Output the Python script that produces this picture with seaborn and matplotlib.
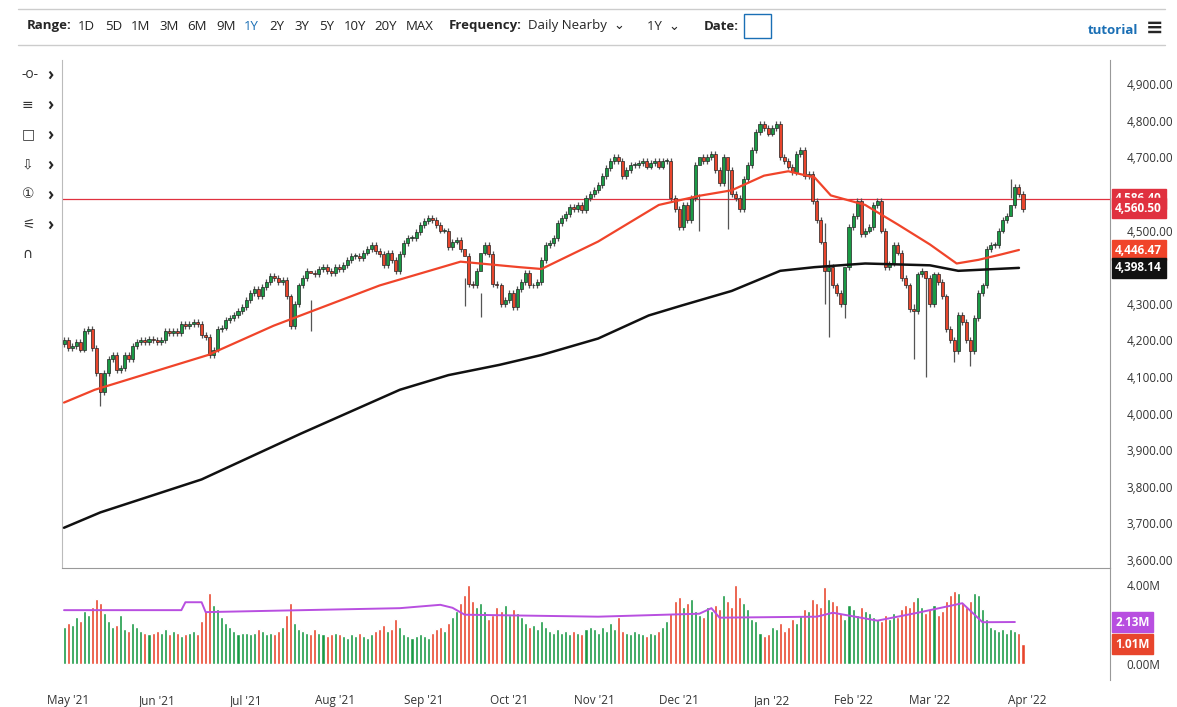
import numpy as np
import pandas as pd
import seaborn as sns
import matplotlib.pyplot as plt
from matplotlib.patches import Rectangle

# daily closes (E-mini S&P)
closes_may = [4200, 4180, 4185, 4195, 4175, 4225, 4230, 4180, 4110, 4060, 4110, 4150, 4160, 4120, 4125,
              4160, 4150, 4185, 4195, 4200, 4195, 4205, 4200]
closes_jun = [4195, 4200, 4225, 4220, 4225, 4220, 4245, 4240, 4245, 4250, 4245, 4215, 4210, 4160, 4175,
              4230, 4235, 4255, 4260, 4270, 4280, 4290]
closes_jul = [4310, 4330, 4340, 4320, 4345, 4360, 4375, 4370, 4360, 4365, 4320, 4240, 4300, 4350, 4370,
              4390, 4385, 4380, 4395, 4400, 4390, 4385]
closes_aug = [4400, 4395, 4405, 4420, 4430, 4430, 4425, 4440, 4450, 4460, 4445, 4435, 4405, 4440, 4420,
              4390, 4435, 4465, 4480, 4480, 4495, 4515]
closes_sep = [4525, 4535, 4530, 4515, 4500, 4500, 4455, 4470, 4475, 4450, 4430, 4355, 4350, 4390, 4440,
              4460, 4435, 4355, 4350, 4300, 4310]
closes_oct = [4330, 4290, 4340, 4360, 4385, 4350, 4350, 4360, 4420, 4460, 4465, 4480, 4520, 4535, 4545,
              4565, 4560, 4570, 4555, 4590, 4600]
closes_nov = [4610, 4625, 4650, 4670, 4690, 4700, 4690, 4650, 4665, 4680, 4680, 4685, 4690, 4675, 4685,
              4690, 4675, 4690, 4690, 4590, 4560]
closes_dec = [4510, 4570, 4530, 4590, 4680, 4700, 4690, 4700, 4710, 4665, 4630, 4700, 4665, 4600, 4590,
              4560, 4640, 4680, 4720, 4770, 4790, 4780, 4765]
closes_jan = [4780, 4790, 4700, 4690, 4675, 4660, 4710, 4720, 4650, 4655, 4580, 4530, 4470, 4390, 4400,
              4350, 4330, 4300, 4400, 4510]
closes_feb = [4540, 4580, 4490, 4500, 4510, 4570, 4580, 4500, 4400, 4410, 4460, 4440, 4370, 4350, 4285,
              4280, 4380, 4390, 4370]
closes_mar = [4300, 4380, 4360, 4320, 4230, 4200, 4170, 4270, 4250, 4200, 4170, 4260, 4330, 4350, 4450,
              4460, 4460, 4500, 4530, 4540, 4570, 4620, 4600, 4560]

# days with long wicks: index -> (high, low)
long_wicks = {9: (4110, 4020), 61: (4310, 4225), 99: (4370, 4295), 103: (4330, 4265), 157: (4600, 4500),
              164: (4680, 4505), 188: (4520, 4300), 189: (4420, 4210), 193: (4350, 4260), 210: (4300, 4150),
              213: (4390, 4100), 220: (4210, 4140), 224: (4210, 4130), 234: (4640, 4590)}

volumes = [1.9, 2.1, 2.0, 2.4, 2.2, 2.7, 2.5, 2.9, 3.3, 3.1, 2.6, 2.2, 1.9, 2.0, 2.5, 1.8, 1.7, 2.1,
           1.9, 1.7, 1.6, 1.5, 1.6,
           1.7, 1.6, 1.8, 1.5, 1.7, 1.6, 1.4, 1.5, 1.6, 1.7, 1.5, 2.2, 2.7, 3.6, 3.0, 2.8, 2.4, 2.1,
           1.9, 1.7, 1.5, 1.6,
           1.6, 1.5, 1.6, 1.8, 1.7, 1.5, 1.6, 1.5, 1.7, 1.9, 2.5, 3.1, 2.1, 1.8, 1.7, 1.6, 1.5, 1.8,
           1.6, 1.5, 1.4, 1.5,
           1.6, 1.5, 1.4, 1.3, 1.5, 1.4, 1.6, 1.4, 1.3, 1.5, 1.7, 1.8, 2.0, 1.7, 1.8, 2.3, 1.9, 1.5,
           1.4, 1.3, 1.4, 1.5,
           1.4, 1.3, 1.6, 1.8, 1.9, 1.7, 2.1, 2.4, 2.7, 3.1, 3.5, 4.0, 3.2, 2.9, 3.1, 2.7, 2.3, 2.5,
           2.9, 2.7, 3.0,
           2.5, 2.8, 2.6, 2.4, 2.1, 1.9, 2.0, 1.8, 2.2, 1.9, 1.7, 1.6, 1.8, 1.6, 1.7, 1.5, 1.7, 1.6,
           1.5, 1.8, 1.9,
           1.8, 1.6, 1.9, 1.7, 2.1, 1.8, 2.4, 1.7, 1.6, 1.5, 1.7, 1.6, 1.5, 1.4, 1.6, 1.5, 1.7, 1.9,
           2.2, 2.6, 3.2,
           3.4, 2.9, 3.1, 3.3, 2.7, 2.5, 2.4, 2.9, 2.7, 3.0, 2.8, 3.5, 3.2, 2.9, 4.0, 3.4, 3.1, 2.8,
           2.3, 2.2, 1.6, 1.4, 1.5,
           1.9, 1.8, 2.1, 1.7, 1.9, 2.3, 2.1, 2.5, 2.8, 2.7, 3.3, 3.1, 2.9, 3.9, 3.3, 3.2, 3.0, 2.6,
           2.3, 3.0,
           2.8, 2.5, 2.9, 2.7, 2.6, 2.4, 2.3, 2.2, 2.5, 2.3, 2.6, 2.4, 2.8, 3.0, 2.9, 3.2, 3.4, 2.9,
           2.6,
           2.8, 3.0, 2.5, 2.7, 3.2, 3.5, 3.7, 3.6, 3.1, 2.9, 3.2, 3.6, 3.5, 2.8, 2.3, 1.9, 1.8, 1.7,
           1.8, 1.6, 1.8, 1.7, 1.6, 1.0]

# moving averages, sparse (day index, value)
ma50_idx = [0, 7.6, 35.6, 51.8, 78, 98, 112.5, 118, 132, 147, 157, 165, 173, 179, 185.5, 189.5,
            198, 206, 214, 220.6, 226, 231.7, 236]
ma50_val = [4030, 4065, 4160, 4240, 4350, 4415, 4400, 4395, 4470, 4570, 4595, 4610, 4650, 4662, 4645,
            4596, 4570, 4517, 4462, 4410, 4420, 4435, 4447]
ma200_idx = [0, 9, 34, 58.5, 83, 95, 107.6, 118, 132, 144.5, 152.6, 165, 177, 185.5, 198, 214, 221, 236]
ma200_val = [3688, 3730, 3820, 3945, 4065, 4105, 4133, 4160, 4205, 4268, 4295, 4335, 4390, 4400, 4410,
             4405, 4390, 4398]
vavg_idx = [0, 29, 30, 34, 35, 83, 93, 96, 99, 132, 157, 160, 162, 186, 190, 201, 211, 222, 227, 235]
vavg_val = [2.73, 2.73, 3.13, 3.13, 2.63, 2.83, 3.0, 2.85, 2.5, 2.4, 2.55, 2.83, 2.35, 2.4, 2.6, 2.2,
            2.6, 3.08, 2.12, 2.13]

price_ticks = [3600, 3700, 3800, 3900, 4000, 4100, 4200, 4300, 4500, 4700, 4800, 4900]
month_labels = ["May '21", "Jun '21", "Jul '21", "Aug '21", "Sep '21", "Oct '21", "Nov '21",
                "Dec '21", "Jan '22", "Feb '22", "Mar '22", "Apr '22"]
month_sizes = [2 + 21, 22, 22, 22, 21, 21, 21, 23, 20, 19, 23]

closes = np.array(closes_may + closes_jun + closes_jul + closes_aug + closes_sep + closes_oct +
                  closes_nov + closes_dec + closes_jan + closes_feb + closes_mar, dtype=float)
n = len(closes)
opens = np.concatenate([[4190], closes[:-1]])
highs = np.maximum(opens, closes) + 8
lows = np.minimum(opens, closes) - 8
for k, (h, l) in long_wicks.items():
    if k < n:
        highs[k] = h
        lows[k] = l
vols = np.array((volumes + [1.2] * n)[:n])
up = closes >= opens

GREEN = "#1a9a45"
RED = "#e8452c"

sns.set_style("white")
plt.rcParams["font.family"] = ["Open Sans", "DejaVu Sans"]

fig = plt.figure(figsize=(11.77, 7.07), dpi=100)
W, H = 1177, 707
ax = fig.add_axes([62 / W, 1 - 568 / H, (1110 - 62) / W, (568 - 60) / H])
axv = fig.add_axes([62 / W, 1 - 680 / H, (1110 - 62) / W, (680 - 568) / H])

x = np.arange(n)
xlim = (-0.5, n + 20.5)

# candles
ax.vlines(x, lows, highs, color="#555555", lw=0.9, zorder=2)
body_lo = np.minimum(opens, closes)
body_h = np.maximum(np.abs(closes - opens), 2)
ax.bar(x[up], body_h[up], bottom=body_lo[up], width=0.75, color=GREEN, edgecolor="#222222", lw=0.5, zorder=3)
ax.bar(x[~up], body_h[~up], bottom=body_lo[~up], width=0.75, color=RED, edgecolor="#222222", lw=0.5, zorder=3)

sns.lineplot(x=ma50_idx, y=ma50_val, ax=ax, color="#f0442a", lw=1.6, zorder=4)
sns.lineplot(x=ma200_idx, y=ma200_val, ax=ax, color="#111111", lw=1.8, zorder=4)
ax.axhline(4586.4, color="#e0313f", lw=0.9, zorder=1)

ax.set_xlim(*xlim)
ax.set_ylim(3578, 4966)
ax.yaxis.tick_right()
ax.set_yticks(price_ticks)
ax.set_yticklabels([f"{v:,.2f}" for v in price_ticks], fontsize=8.5, color="#333333")
ax.tick_params(axis="y", length=0, pad=12)
ax.set_xticks([])
for s in ["top", "bottom"]:
    ax.spines[s].set_visible(False)
ax.spines["right"].set_color("#999999")
ax.spines["left"].set_color("#bbbbbb")

# price labels on the right
for val, txt, col in [(4586.4, "4,586.40", "#e0313f"), (4560.5, "4,560.50", "#e0313f"),
                      (4446.47, "4,446.47", "#f0442a"), (4398.14, "4,398.14", "#111111")]:
    ax.text(1.005, val, txt, transform=ax.get_yaxis_transform(), fontsize=8.5, color="white",
            fontweight="bold", va="center", ha="left",
            bbox=dict(boxstyle="square,pad=0.3", fc=col, ec=col))

# volume
axv.bar(x[up], vols[up], width=0.75, color=GREEN)
axv.bar(x[~up], vols[~up], width=0.75, color=RED)
sns.lineplot(x=vavg_idx, y=vavg_val, ax=axv, color="#b84fe0", lw=1.4)
axv.set_xlim(*xlim)
axv.set_ylim(-0.8, 4.86)
axv.yaxis.tick_right()
axv.set_yticks([0, 4])
axv.set_yticklabels(["0.00M", "4.00M"], fontsize=8.5, color="#333333")
axv.tick_params(axis="y", length=0, pad=12)
for s in ["left", "bottom"]:
    axv.spines[s].set_visible(False)
axv.spines["top"].set_color("#999999")
axv.spines["right"].set_color("#999999")
for val, txt, col in [(2.13, "2.13M", "#b84fe0"), (1.01, "1.01M", "#e8452c")]:
    axv.text(1.005, val, txt, transform=axv.get_yaxis_transform(), fontsize=8.5, color="white",
             fontweight="bold", va="center", ha="left",
             bbox=dict(boxstyle="square,pad=0.3", fc=col, ec=col))

starts = np.concatenate([[1], 2 + np.cumsum([21] + month_sizes[1:])])
starts = list(starts[:len(month_labels) - 1]) + [n]
axv.set_xticks(starts)
axv.set_xticklabels(month_labels, fontsize=8.5, color="#333333")
axv.tick_params(axis="x", length=0, pad=10)

# toolbar
fig.add_artist(plt.Line2D([0.015, 0.99], [1 - 9 / H, 1 - 9 / H], color="#cccccc", lw=1))
fig.add_artist(plt.Line2D([0.015, 0.99], [1 - 45 / H, 1 - 45 / H], color="#cccccc", lw=1))
fig.text(27 / W, 1 - 26 / H, "Range:", fontsize=9.5, fontweight="bold", va="center")
items = [("1D", 78), ("5D", 105), ("1M", 131), ("3M", 159), ("6M", 187), ("9M", 216), ("1Y", 244),
         ("2Y", 269), ("3Y", 294), ("5Y", 319), ("10Y", 344), ("20Y", 374), ("MAX", 406)]
for t, px in items:
    fig.text(px / W, 1 - 26 / H, t, fontsize=9.5, va="center",
             color="#1a6fb5" if t == "1Y" else "#222222")
fig.text(449 / W, 1 - 26 / H, "Frequency:", fontsize=9.5, fontweight="bold", va="center")
fig.text(528 / W, 1 - 26 / H, "Daily Nearby  ⌄", fontsize=9.5, va="center")
fig.text(647 / W, 1 - 26 / H, "1Y  ⌄", fontsize=9.5, va="center")
fig.text(704 / W, 1 - 26 / H, "Date:", fontsize=9.5, fontweight="bold", va="center")
fig.add_artist(Rectangle((744 / W, 1 - 38 / H), 27 / W, 24 / H, fc="white", ec="#1a6fb5", lw=1))
fig.text(1088 / W, 1 - 30 / H, "tutorial", fontsize=9.5, fontweight="bold", color="#1a6fb5", va="center")
fig.text(1146 / W, 1 - 28 / H, "≡", fontsize=15, fontweight="bold", va="center")

# left drawing tools
for i, sym in enumerate(["-o-", "≡", "□", "⇩", "①", "⚟", "∩"]):
    y = 75 + 30 * i
    fig.text(22 / W, 1 - y / H, sym, fontsize=10, va="center", color="#333333")
    if i < 6:
        fig.text(47 / W, 1 - y / H, "›", fontsize=12, va="center", fontweight="bold")

fig.savefig("out.png", dpi=100)
